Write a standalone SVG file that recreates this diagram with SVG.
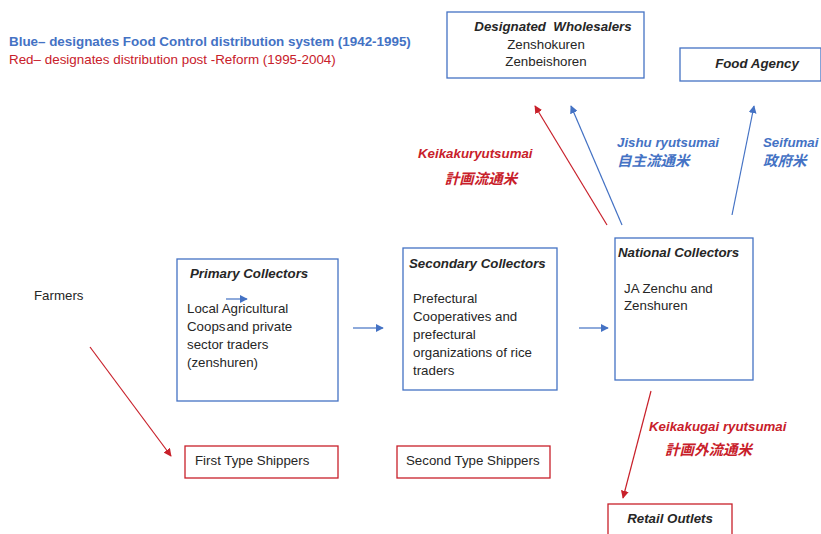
<svg xmlns="http://www.w3.org/2000/svg" width="821" height="534" viewBox="0 0 821 534">
<style>
text{font-family:"Liberation Sans",Arial,"Noto Sans CJK JP",sans-serif;font-size:13.3px;fill:#262626}
.t{font-weight:bold;font-style:italic}
.b{fill:#4472C4}
.r{fill:#C8202A}
.bb{fill:none;stroke:#4472C4;stroke-width:1.3}
.rb{fill:none;stroke:#C8202A;stroke-width:1.3}
.lb{stroke:#4472C4;stroke-width:1.2;fill:none}
.lr{stroke:#C8202A;stroke-width:1.2;fill:none}
.lbl{font-weight:bold;font-style:italic}
.cjk{font-size:14.5px}
.lg{font-size:13.4px}
</style>
<defs>
<marker id="ab" viewBox="0 0 10 10" refX="9" refY="5" markerWidth="8" markerHeight="8" markerUnits="userSpaceOnUse" orient="auto"><path d="M0,0L10,5L0,10z" fill="#4472C4"/></marker>
<marker id="ar" viewBox="0 0 10 10" refX="9" refY="5" markerWidth="8" markerHeight="8" markerUnits="userSpaceOnUse" orient="auto"><path d="M0,0L10,5L0,10z" fill="#C8202A"/></marker>
</defs>
<g id="legend">
<text x="9" y="46" class="b lg" style="font-weight:bold">Blue– designates Food Control distribution system (1942-1995)</text>
<text x="9" y="64" class="r lg">Red– designates distribution post -Reform (1995-2004)</text>
</g>
<g id="wholesalers">
<rect x="447" y="12" width="197" height="66" class="bb"/>
<text x="553" y="31" class="t" text-anchor="middle" xml:space="preserve">Designated  Wholesalers</text>
<text x="546" y="49" text-anchor="middle">Zenshokuren</text>
<text x="546" y="66" text-anchor="middle">Zenbeishoren</text>
</g>
<g id="food-agency">
<rect x="680" y="48" width="141" height="33" class="bb"/>
<text x="757" y="68" class="t" text-anchor="middle">Food Agency</text>
</g>
<g id="farmers">
<text x="34" y="300">Farmers</text>
</g>
<g id="primary">
<rect x="177" y="259" width="161" height="142" class="bb"/>
<text x="190" y="278" class="t">Primary Collectors</text>
<text x="187" y="313">Local Agricultural</text>
<text x="187" y="331">Coops<tspan dx="1">and private</tspan></text>
<text x="187" y="349">sector traders</text>
<text x="187" y="367">(zenshuren)</text>
</g>
<g id="secondary">
<rect x="403" y="248" width="154" height="142" class="bb"/>
<text x="409" y="268" class="t">Secondary Collectors</text>
<text x="413" y="303">Prefectural</text>
<text x="413" y="321">Cooperatives and</text>
<text x="413" y="339">prefectural</text>
<text x="413" y="357">organizations of rice</text>
<text x="413" y="375">traders</text>
</g>
<g id="national">
<rect x="615" y="238" width="138" height="142" class="bb"/>
<text x="618" y="257" class="t">National Collectors</text>
<text x="624" y="293">JA Zenchu and</text>
<text x="624" y="310">Zenshuren</text>
</g>
<g id="first-shippers">
<rect x="185" y="446" width="153" height="32" class="rb"/>
<text x="195" y="465">First Type Shippers</text>
</g>
<g id="second-shippers">
<rect x="397" y="446" width="153" height="32" class="rb"/>
<text x="406" y="465">Second Type Shippers</text>
</g>
<g id="retail">
<rect x="608" y="504" width="124" height="40" class="rb"/>
<text x="670" y="523" class="t" text-anchor="middle">Retail Outlets</text>
</g>
<g id="connectors">
<line x1="226" y1="299" x2="247" y2="299" class="lb" marker-end="url(#ab)"/>
<line x1="353" y1="328" x2="383" y2="328" class="lb" marker-end="url(#ab)"/>
<line x1="579" y1="328" x2="608" y2="328" class="lb" marker-end="url(#ab)"/>
<line x1="607" y1="225" x2="535" y2="106" class="lr" marker-end="url(#ar)"/>
<line x1="622" y1="225" x2="571" y2="106" class="lb" marker-end="url(#ab)"/>
<line x1="732" y1="215" x2="754" y2="106" class="lb" marker-end="url(#ab)"/>
<line x1="90" y1="347" x2="171" y2="456" class="lr" marker-end="url(#ar)"/>
<line x1="651" y1="391" x2="623" y2="498" class="lr" marker-end="url(#ar)"/>
</g>
<g id="labels">
<text x="418" y="158" class="lbl r">Keikakuryutsumai</text>
<text x="481" y="184" class="lbl r cjk" text-anchor="middle">計画流通米</text>
<text x="617" y="147" class="lbl b">Jishu ryutsumai</text>
<text x="617" y="166" class="lbl b cjk">自主流通米</text>
<text x="763" y="147" class="lbl b">Seifumai</text>
<text x="763" y="166" class="lbl b cjk">政府米</text>
<text x="649" y="431" class="lbl r">Keikakugai ryutsumai</text>
<text x="665" y="455" class="lbl r cjk">計画外流通米</text>
</g>
</svg>
